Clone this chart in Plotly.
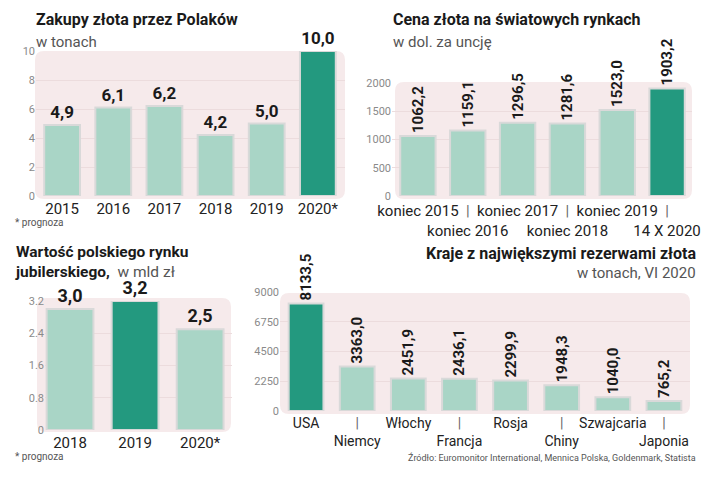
import plotly.graph_objects as go

W, H = 720, 478
OFF = 8  # domyślny margines strony przesuwa wykres o 8 px

# Zakupy złota przez Polaków, w tonach
years_buy = ['2015', '2016', '2017', '2018', '2019', '2020*']
tons_buy = [4.9, 6.1, 6.2, 4.2, 5.0, 10.0]

# Cena złota na światowych rynkach, w dol. za uncję
price_labels = ['koniec 2015', 'koniec 2016', 'koniec 2017',
                'koniec 2018', 'koniec 2019', '14 X 2020']
price_usd = [1062.2, 1159.1, 1296.5, 1281.6, 1523.0, 1903.2]

# Wartość polskiego rynku jubilerskiego, w mld zł
years_jewel = ['2018', '2019', '2020*']
jewel_bn = [3.0, 3.2, 2.5]

# Kraje z największymi rezerwami złota, w tonach, VI 2020
countries = ['USA', 'Niemcy', 'Włochy', 'Francja', 'Rosja',
             'Chiny', 'Szwajcaria', 'Japonia']
reserves = [8133.5, 3363.0, 2451.9, 2436.1, 2299.9, 1948.3, 1040.0, 765.2]

LIGHT = '#a9d5c6'
DARK = '#23997f'
EDGE = '#d9d9d9'
BG = '#f6eaeb'
GRID = '#ecdcdd'
FONT = 'Roboto, sans-serif'


def px(x):
    return (x - OFF) / W


def py(y):
    return 1 - (y - OFF) / H


def pl(v):
    # polski przecinek dziesiętny
    return f'{v:.1f}'.replace('.', ',')


def colors(n, hi):
    return [DARK if i == hi else LIGHT for i in range(n)]


def stagger(labels):
    out = []
    for i, l in enumerate(labels):
        if i % 2:
            out.append("<span style='color:#666'>|</span><br>" + l)
        else:
            out.append(l)
    return out


def rounded(x0, y0, x1, y1, r=9):
    # prostokąt z zaokrąglonymi rogami w pikselach -> paper
    rx, ry = r / W, r / H
    a, b, c, d = px(x0), py(y1), px(x1), py(y0)
    return (f'M {a+rx},{b} L {c-rx},{b} Q {c},{b} {c},{b+ry} '
            f'L {c},{d-ry} Q {c},{d} {c-rx},{d} L {a+rx},{d} '
            f'Q {a},{d} {a},{d-ry} L {a},{b+ry} Q {a},{b} {a+rx},{b} Z')


LABEL = dict(family=FONT, size=17, color='#1a1a1a', weight='bold')
VLABEL = dict(family=FONT, size=15, color='#1a1a1a', weight='bold')

fig = go.Figure()

fig.add_trace(go.Bar(
    x=years_buy, y=tons_buy, xaxis='x', yaxis='y', width=0.7,
    marker=dict(color=colors(6, 5), line=dict(color=EDGE, width=2)),
    text=[pl(v) for v in tons_buy], textposition='outside', textfont=LABEL,
    cliponaxis=False, constraintext='none'))

fig.add_trace(go.Bar(
    x=price_labels, y=price_usd, xaxis='x2', yaxis='y2', width=0.71,
    marker=dict(color=colors(6, 5), line=dict(color=EDGE, width=2)),
    text=[pl(v) for v in price_usd], textposition='outside', textangle=-90,
    textfont=VLABEL, cliponaxis=False, constraintext='none'))

fig.add_trace(go.Bar(
    x=years_jewel, y=jewel_bn, xaxis='x3', yaxis='y3', width=0.72,
    marker=dict(color=colors(3, 1), line=dict(color=EDGE, width=2)),
    text=[pl(v) for v in jewel_bn], textposition='outside',
    textfont=dict(LABEL, size=18), cliponaxis=False, constraintext='none'))

fig.add_trace(go.Bar(
    x=countries, y=reserves, xaxis='x4', yaxis='y4', width=0.68,
    marker=dict(color=colors(8, 0), line=dict(color=EDGE, width=2)),
    text=[pl(v) for v in reserves], textposition='outside', textangle=-90,
    textfont=VLABEL, cliponaxis=False, constraintext='none'))

xcommon = dict(type='category', showline=False, ticks='', showgrid=False,
               tickangle=0, automargin=False, ticklabelstandoff=2,
               tickfont=dict(family=FONT, size=15, color='#222'))
ycommon = dict(showline=False, ticks='', zeroline=False, gridcolor=GRID,
               automargin=False,
               tickfont=dict(family=FONT, size=11, color='#8a8a8a'))

fig.update_layout(
    width=W, height=H,
    margin=dict(l=0, r=0, t=0, b=0, pad=0, autoexpand=False),
    paper_bgcolor='white', plot_bgcolor='rgba(0,0,0,0)',
    showlegend=False,
    xaxis=dict(xcommon, domain=[px(36), px(345)], anchor='y',
               range=[-0.51, 5.53], tickvals=years_buy, ticktext=years_buy),
    yaxis=dict(ycommon, domain=[py(196), py(51)], anchor='x',
               range=[0, 10], tickvals=[0, 2, 4, 6, 8, 10]),
    xaxis2=dict(xcommon, domain=[px(392), px(692)], anchor='y2',
                range=[-0.52, 5.5], tickvals=price_labels,
                ticktext=stagger(price_labels), ticklabelstandoff=4),
    yaxis2=dict(ycommon, domain=[py(196), py(83)], anchor='x2',
                range=[0, 2000], tickvals=[0, 500, 1000, 1500, 2000]),
    xaxis3=dict(xcommon, domain=[px(45), px(232)], anchor='y3',
                range=[-0.385, 2.49], tickvals=years_jewel,
                ticktext=years_jewel),
    yaxis3=dict(ycommon, domain=[py(430), py(301)], anchor='x3',
                range=[0, 3.2], tickvals=[0, 0.8, 1.6, 2.4, 3.2],
                ticktext=['0', '0.8', '1.6', '2.4', '3.2']),
    xaxis4=dict(xcommon, domain=[px(280), px(690)], anchor='y4',
                range=[-0.51, 7.51], tickvals=countries,
                ticktext=stagger(countries),
                tickfont=dict(family=FONT, size=14, color='#222')),
    yaxis4=dict(ycommon, domain=[py(411), py(292)], anchor='x4',
                range=[0, 9000], tickvals=[0, 2250, 4500, 6750, 9000]),
)

# różowe tła wykresów
for box in [(35, 51, 345, 199), (395, 82, 692, 199),
            (37, 298, 231, 432), (280, 293, 690, 414)]:
    fig.add_shape(type='path', path=rounded(*box), xref='paper', yref='paper',
                  fillcolor=BG, line=dict(width=0), layer='below')

TITLE = dict(family=FONT, size=16, color='#1a1a1a', weight='bold')
SUB = dict(family=FONT, size=15, color='#555')
NOTE = dict(family=FONT, size=10, color='#555')


def note(text, x, y, font, anchor='left'):
    fig.add_annotation(text=text, x=px(x), y=py(y), xref='paper', yref='paper',
                       xanchor=anchor, yanchor='middle', showarrow=False,
                       font=font, align=anchor)


note('Zakupy złota przez Polaków', 34, 20, TITLE)
note('w tonach', 34, 42, SUB)
note('* prognoza', 13, 222, NOTE)

note('Cena złota na światowych rynkach', 391, 20, TITLE)
note('w dol. za uncję', 391, 42, SUB)

note("<b style='color:#1a1a1a'>Wartość polskiego rynku</b><br>"
     "<b style='color:#1a1a1a'>jubilerskiego,</b>  w mld zł", 13, 262,
     dict(SUB, size=15.5))
note('* prognoza', 13, 456, NOTE)

note('Kraje z największymi rezerwami złota', 698, 254, TITLE, 'right')
note('w tonach, VI 2020', 698, 273, SUB, 'right')
note('Źródło: Euromonitor International, Mennica Polska, Goldenmark, Statista',
     698, 457, dict(NOTE, size=9), 'right')

fig.write_html('out.html')
